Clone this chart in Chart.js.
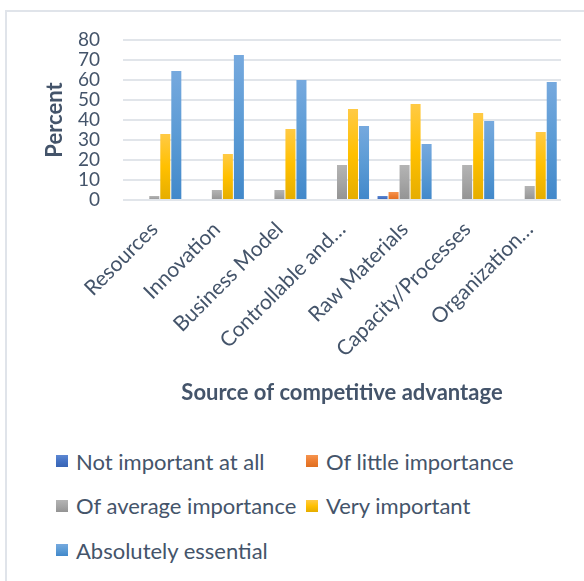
<!DOCTYPE html>
<html>
<head>
<meta charset="utf-8">
<script src="https://cdn.jsdelivr.net/npm/chart.js@4.4.1/dist/chart.umd.min.js"></script>
<style>
  html, body { margin: 0; padding: 0; background: #fff; }
  #wrap { position: relative; width: 584px; height: 581px; overflow: hidden; font-family: Lato, sans-serif; }
  #frame { position: absolute; left: 5px; top: 10px; width: 600px; height: 600px;
           border-top: 2px solid #e0e4ea; border-left: 2px solid #e0e4ea; }
  #chartBox { position: absolute; left: 0; top: 0; width: 584px; height: 420px; }
  #legend { position: absolute; left: 56px; top: 447px; width: 520px; }
  #legend .item { position: absolute; display: flex; align-items: center; color: #44546a;
                  font-size: 22px; white-space: nowrap; height: 28px; }
  #legend .box { width: 12px; height: 12px; margin-right: 8px; }
</style>
</head>
<body>
<div id="wrap">
  <div id="frame"></div>
  <div id="chartBox"><canvas id="chart" width="584" height="420"></canvas></div>
  <div id="legend"></div>
</div>
<script>
// categories and answers (percent of respondents)
var categories = ['Resources', 'Innovation', 'Business Model', 'Controllable and\u2026',
                  'Raw Materials', 'Capacity/Processes', 'Organization\u2026'];
var seriesNames = ['Not important at all', 'Of little importance', 'Of average importance',
                   'Very important', 'Absolutely essential'];
var notImportant        = [0, 0, 0, 0, 2, 0, 0];
var littleImportance    = [0, 0, 0, 0, 4, 0, 0];
var averageImportance   = [2, 5, 5, 17.5, 17.5, 17.5, 7];
var veryImportant       = [33, 23, 35.5, 45.5, 48, 43.5, 34];
var absolutelyEssential = [64.5, 72.5, 60, 37, 28, 39.5, 59];
var yTicks = [0, 10, 20, 30, 40, 50, 60, 70, 80];

// light / base / dark for each series, used for the vertical bar gradient
var palette = [
	['#5e88d2', '#4472c4', '#3864b4'],
	['#f6944f', '#ed7d31', '#df6e20'],
	['#b4b4b4', '#a5a5a5', '#939393'],
	['#ffca45', '#ffc000', '#e5ad00'],
	['#76a9de', '#5b9bd5', '#4188ca']
];

var textColor = '#44546a';
Chart.defaults.font.family = 'Lato, sans-serif';
Chart.defaults.color = textColor;

function barFill(idx) {
	return function(ctx) {
		var chart = ctx.chart;
		var c = palette[idx];
		if (!chart.chartArea || ctx.parsed === undefined) return c[1];
		var y = chart.scales.y;
		var top = y.getPixelForValue(ctx.parsed.y);
		var base = y.getPixelForValue(0);
		if (base - top < 1) return c[1];
		var g = chart.ctx.createLinearGradient(0, top, 0, base);
		g.addColorStop(0, c[0]);
		g.addColorStop(0.5, c[1]);
		g.addColorStop(1, c[2]);
		return g;
	};
}

var values = [notImportant, littleImportance, averageImportance, veryImportant, absolutelyEssential];
var datasets = values.map(function(v, i) {
	return {
		label: seriesNames[i],
		data: v,
		backgroundColor: barFill(i),
		borderWidth: 0,
		categoryPercentage: 0.88,
		barPercentage: 0.91
	};
});

var chart = new Chart(document.getElementById('chart'), {
	type: 'bar',
	data: { labels: categories, datasets: datasets },
	options: {
		responsive: false,
		animation: false,
		// rotated labels hang past the plot edge; don't let them push the plot in
		layout: { autoPadding: false, padding: { left: 42, right: 23, top: 40, bottom: 14 } },
		plugins: { legend: { display: false }, tooltip: { enabled: false } },
		scales: {
			x: {
				grid: { display: false, drawTicks: false },
				border: { display: false },
				ticks: {
					autoSkip: false, minRotation: 45, maxRotation: 45, padding: 17,
					font: { size: 21 }, color: textColor
				},
				title: {
					display: true, text: 'Source of competitive advantage',
					font: { size: 22, weight: 'bold' }, color: textColor,
					padding: { top: 50, bottom: 0 }
				},
				// the label block is taller than half the canvas, so fix the axis height
				afterFit: function(axis) { axis.height = 206; }
			},
			y: {
				min: 0, max: 80,
				afterBuildTicks: function(axis) {
					axis.ticks = yTicks.map(function(v) { return { value: v }; });
				},
				grid: { color: '#e1e5ea', lineWidth: 2, drawTicks: false },
				border: { display: false },
				ticks: { autoSkip: false, padding: 23, font: { size: 19 }, color: textColor },
				title: {
					display: true, text: 'Percent',
					font: { size: 22, weight: 'bold' }, color: textColor,
					padding: { top: 0, bottom: 10 }
				},
				afterFit: function(axis) { axis.width = 81; }
			}
		}
	}
});

// legend laid out in two columns under the chart
var legend = document.getElementById('legend');
var cols = [0, 250];
chart.data.datasets.forEach(function(ds, i) {
	var item = document.createElement('div');
	item.className = 'item';
	item.style.left = cols[i % 2] + 'px';
	item.style.top = (Math.floor(i / 2) * 44.5) + 'px';
	var box = document.createElement('span');
	box.className = 'box';
	var c = palette[i];
	box.style.background = 'linear-gradient(' + c[0] + ',' + c[1] + ',' + c[2] + ')';
	item.appendChild(box);
	item.appendChild(document.createTextNode(ds.label));
	legend.appendChild(item);
});
</script>
</body>
</html>
